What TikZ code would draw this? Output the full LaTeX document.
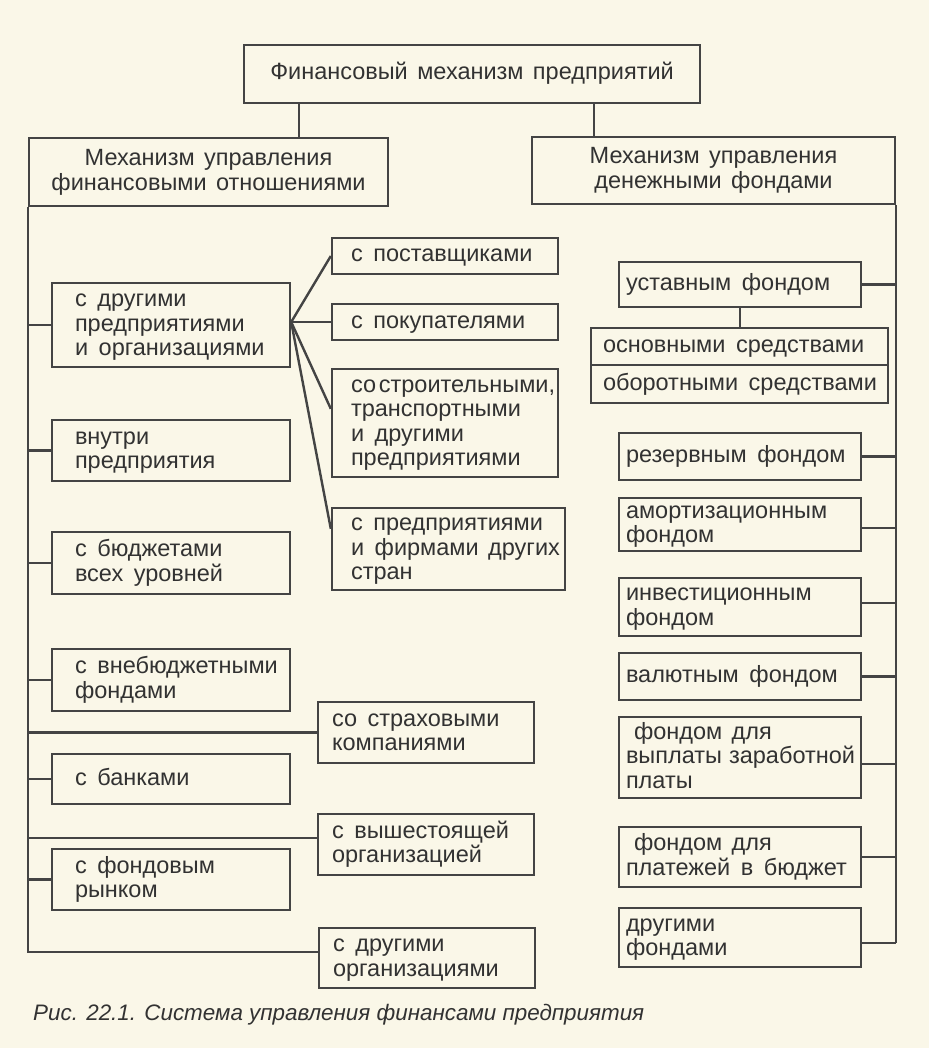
\documentclass[tikz,border=0pt]{standalone}
\usepackage{fontspec}
\setmainfont{Liberation Sans}
\usetikzlibrary{calc}
\definecolor{paper}{RGB}{250,247,232}
\definecolor{ink}{RGB}{50,50,50}
\definecolor{lin}{RGB}{68,68,68}
\newcommand\smallfont{\fontsize{23.5}{24.5}\selectfont}
\newcommand\headfont{\fontsize{23.5}{25}\selectfont}
\newcommand\capfont{\fontsize{22.4}{27}\selectfont\itshape}
\newcommand\ws{\nobreak\hskip0.45em\relax}
\newcommand\hws{\nobreak\hskip0.4em\relax}
\tikzset{
  box/.style={draw=lin, line width=2.4pt, rectangle, inner ysep=0pt, align=left, font=\smallfont, text=ink},
  head/.style={draw=lin, line width=2.4pt, rectangle, inner sep=0pt, align=center, font=\headfont, text=ink},
  link/.style={draw=lin, line width=2.4pt},
}
% name, left, top, right, bottom, pad, text
\newcommand\bx[7]{%
  \pgfmathsetmacro\bxtw{#4-#2-2*#6}%
  \pgfmathsetmacro\bxw{#4-#2}%
  \pgfmathsetmacro\bxh{#5-#3}%
  \pgfmathsetmacro\bxcx{(#2+#4)/2}%
  \pgfmathsetmacro\bxcy{(#3+#5)/2}%
  \node[box, inner xsep=#6pt, text width=\bxtw pt, minimum width=\bxw pt, minimum height=\bxh pt] (#1) at (\bxcx,\bxcy) {\rule{0pt}{18pt}#7\rule[-6pt]{0pt}{6pt}};%
}
\newcommand\hd[6]{%
  \pgfmathsetmacro\bxw{#4-#2}%
  \pgfmathsetmacro\bxh{#5-#3}%
  \pgfmathsetmacro\bxcx{(#2+#4)/2}%
  \pgfmathsetmacro\bxcy{(#3+#5)/2}%
  \node[head, minimum width=\bxw pt, minimum height=\bxh pt] (#1) at (\bxcx,\bxcy) {#6};%
}
\begin{document}
\begin{tikzpicture}[x=1pt,y=-1pt]
\fill[paper] (0,0) rectangle (929,1048);
\useasboundingbox (0,0) rectangle (929,1048);

% heads
\hd{T}{244}{45}{700}{103}{\rule{0pt}{18pt}Финансовый\hws механизм\hws предприятий\rule[-6pt]{0pt}{6pt}}
\hd{LM}{29}{138}{388}{206}{\rule{0pt}{18pt}Механизм\hws управления\\финансовыми\hws отношениями\rule[-6pt]{0pt}{6pt}}
\hd{RM}{532}{137}{895}{204}{\rule{0pt}{18pt}Механизм\hws управления\\денежными\hws фондами\rule[-6pt]{0pt}{6pt}}

% left column
\bx{L1}{52}{283}{290}{367}{23}{с\ws другими\\предприятиями\\и\ws организациями}
\bx{L2}{52}{420}{290}{481}{23}{внутри\\предприятия}
\bx{L3}{52}{532}{290}{594}{23}{с\ws бюджетами\\всех\ws уровней}
\bx{L4}{52}{649}{290}{711}{23}{с\ws внебюджетными\\фондами}
\bx{L5}{52}{754}{290}{804}{23}{с\ws банками}
\bx{L6}{52}{849}{290}{910}{23}{с\ws фондовым\\рынком}

% middle column
\bx{M1}{318}{702}{534}{763}{14}{со\ws страховыми\\компаниями}
\bx{M2}{318}{814}{534}{875}{14}{с\ws вышестоящей\\организацией}
\bx{M3}{319}{928}{535}{988}{14}{с\ws другими\\организациями}

% sub-boxes of L1
\bx{S1}{332}{238}{558}{274}{19}{с\ws поставщиками}
\bx{S2}{332}{304}{558}{340}{19}{с\ws покупателями}
\bx{S3}{332}{369}{558}{477}{19}{со\nobreak\hskip0.12em\relax строительными,\\транспортными\\и\ws другими\\предприятиями}
\bx{S4}{332}{508}{565}{590}{19}{с\ws предприятиями\\и\ws фирмами\hws других\\стран}

% right column
\bx{R1}{619}{262}{861}{307}{7}{уставным\ws фондом}
\bx{D1}{591}{328}{888}{365}{12}{основными\ws средствами}
\bx{D2}{591}{365}{888}{403}{12}{оборотными\ws средствами}
\bx{R3}{619}{433}{861}{480}{7}{резервным\ws фондом}
\bx{R4}{619}{498}{861}{551}{7}{амортизационным\\фондом}
\bx{R5}{619}{578}{861}{636}{7}{инвестиционным\\фондом}
\bx{R6}{619}{653}{861}{700}{7}{валютным\ws фондом}
\bx{R7}{619}{717}{861}{798}{7}{\hspace*{8pt}фондом\hws для\\выплаты\nobreak\hskip0.3em\relax заработной\\платы}
\bx{R8}{619}{827}{861}{887}{7}{\hspace*{8pt}фондом\hws для\\платежей\ws в\ws бюджет}
\bx{R9}{619}{908}{861}{967}{7}{другими\\фондами}

% caption
\node[font=\capfont, text=ink, anchor=base west, inner sep=0pt] (cap) at (33,1020) {Рис. 22.1. Система управления финансами предприятия};

% top connectors
\coordinate (xL) at (299,0);
\coordinate (xR) at (594,0);
\draw[link] (T.south -| xL) -- (LM.north -| xL);
\draw[link] (T.south -| xR) -- (RM.north -| xR);

% left spine and branches
\draw[link] (LM.south west) |- ($(M3.west)+(0,-6)$);
\foreach \n in {L1,L2,L3,L4,L5,L6,M1}{
  \draw[link] (\n.west) -- (\n.west -| LM.west);
}
\draw[link] ($(M2.west)+(0,-6.5)$) -- ($(M2.west -| LM.west)+(0,-6.5)$);

% fan from L1
\coordinate (fan) at ($(L1.east)+(0,-3)$);
\draw[link] (fan) -- (S1.west);
\draw[link] (fan) -- (S2.west);
\draw[link] (fan) -- ($(S3.north west)+(0,41)$);
\draw[link] (fan) -- ($(S4.north west)+(0,22)$);

% right spine and branches
\draw[link] (RM.south east) -- ($(R9.east -| RM.east)+(0,5.5)$);
\foreach \n in {R1,R3,R6,R8}{
  \draw[link] (\n.east) -- (\n.east -| RM.east);
}
\draw[link] ($(R4.east)+(0,3.5)$) -- ($(R4.east -| RM.east)+(0,3.5)$);
\draw[link] ($(R5.east)+(0,-4)$) -- ($(R5.east -| RM.east)+(0,-4)$);
\draw[link] ($(R7.east)+(0,6.5)$) -- ($(R7.east -| RM.east)+(0,6.5)$);
\draw[link] ($(R9.east)+(0,5.5)$) -- ($(R9.east -| RM.east)+(0,5.5)$);
\draw[link] (R1.south) -- (R1.south |- D1.north);
\end{tikzpicture}
\end{document}
